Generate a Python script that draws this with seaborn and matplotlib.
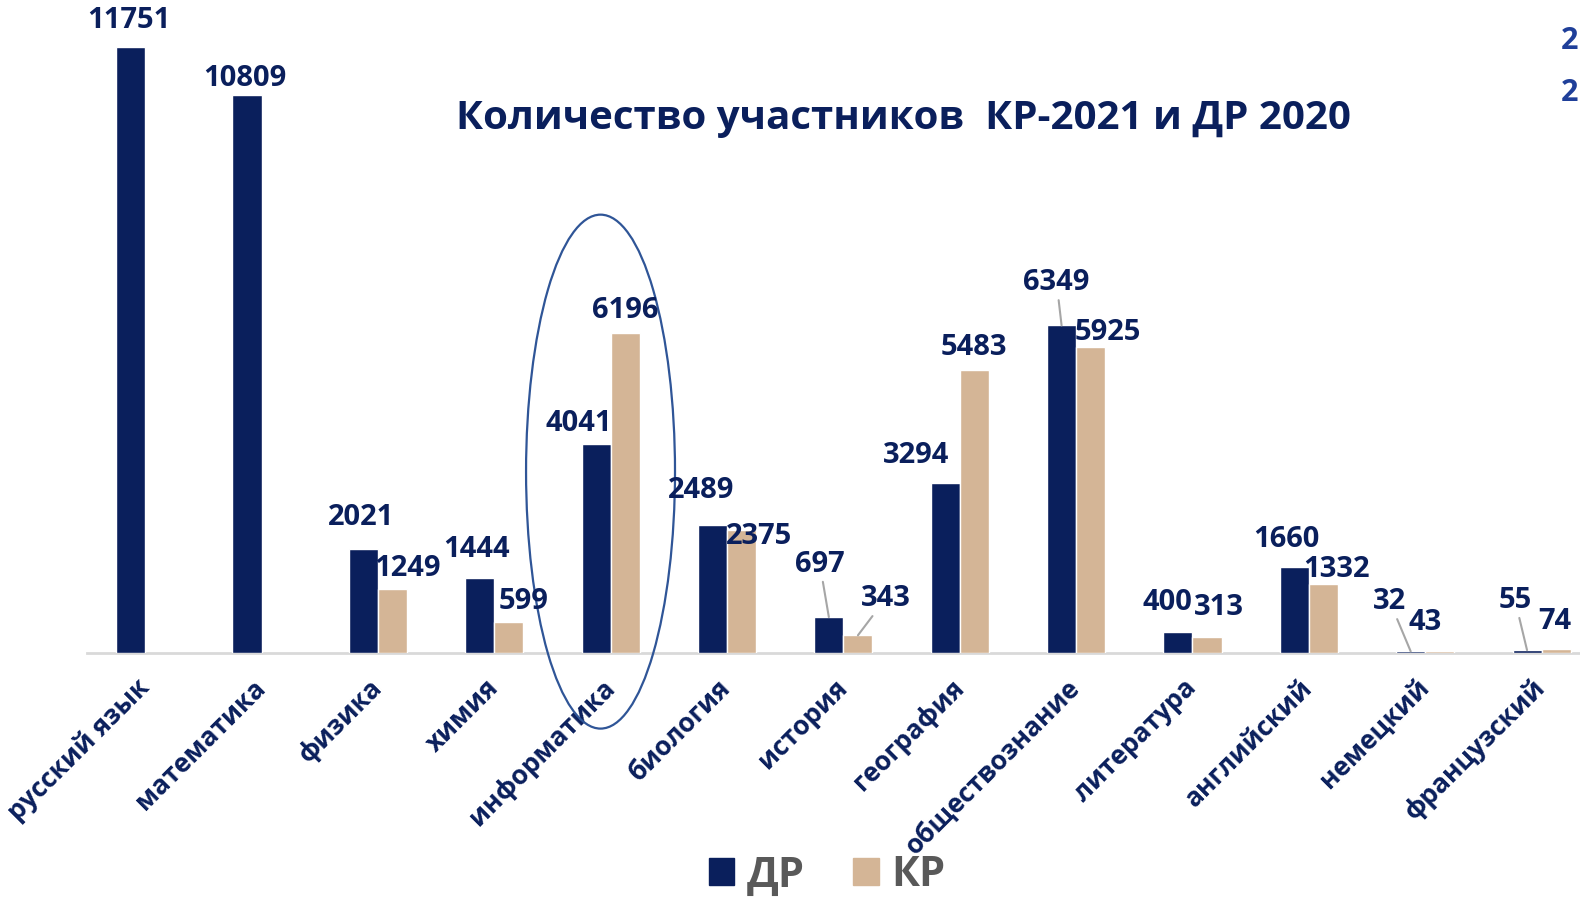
import pandas as pd
import matplotlib.pyplot as plt
import seaborn as sns
from matplotlib.patches import Ellipse, Patch

subjects = ['русский язык', 'математика', 'физика', 'химия', 'информатика', 'биология',
            'история', 'география', 'обществознание', 'литература', 'английский',
            'немецкий', 'французский']
dr = [11751, 10809, 2021, 1444, 4041, 2489, 697, 3294, 6349, 400, 1660, 32, 55]
kr = [None, None, 1249, 599, 6196, 2375, 343, 5483, 5925, 313, 1332, 43, 74]
series = ['ДР', 'КР']
title = 'Количество участников  КР-2021 и ДР 2020'

# label offsets (pixels) from bar top, and which labels have a leader line
dr_off = [(-2, 26), (-2, 17), (-2, 31), (-3, 29), (-17, 21), (-11, 34), (-9, 53),
          (-29, 28), (-5, 43), (-11, 30), (-8, 28), (-21, 50), (-12, 50)]
kr_off = [None, None, (15, 20), (15, 21), (0, 23), (17, -6), (28, 37),
          (0, 23), (17, 15), (12, 29), (13, 15), (-15, 28), (-1, 28)]
dr_lead = [6, 8, 11, 12]
kr_lead = [6]

navy = '#0A1F5C'
tan = '#D4B596'
font = ['Open Sans', 'DejaVu Sans']

rows = []
for s, a, b in zip(subjects, dr, kr):
    rows.append((s, 'ДР', a))
    rows.append((s, 'КР', b))
df = pd.DataFrame(rows, columns=['subject', 'type', 'count']).dropna()

sns.set_style('white')
plt.rcParams['font.family'] = font

fig = plt.figure(figsize=(15.8, 9), dpi=100)
ax = fig.add_axes([87 / 1580, 247 / 900, 1 - 87 / 1580, 653 / 900])
sns.barplot(data=df, x='subject', y='count', hue='type', order=subjects,
            hue_order=series, palette=[navy, tan], width=0.5, errorbar=None,
            saturation=1, legend=False, ax=ax)
ax.set_xlim(-0.5, 12.33)
ax.set_ylim(0, 12655)
ax.set_xlabel('')
ax.set_ylabel('')
ax.set_yticks([])
for sp in ['top', 'left', 'right']:
    ax.spines[sp].set_visible(False)
ax.spines['bottom'].set_color('#D9D9D9')
ax.spines['bottom'].set_linewidth(2)
ax.spines['bottom'].set_zorder(0.5)
ax.tick_params(axis='x', length=0, pad=22)
for lab in ax.get_xticklabels():
    lab.set_rotation(45)
    lab.set_ha('right')
    lab.set_va('center')
    lab.set_rotation_mode('anchor')
    lab.set_fontsize(19)
    lab.set_fontweight('bold')
    lab.set_color(navy)

offsets = {'ДР': (dr_off, dr_lead), 'КР': (kr_off, kr_lead)}
for cont, name in zip(ax.containers, series):
    offs, leads = offsets[name]
    for bar in cont:
        bar.set_zorder(2)
        xc = bar.get_x() + bar.get_width() / 2
        i = int(round(xc))
        h = bar.get_height()
        dx, dy = offs[i]
        arrow = None
        if i in leads:
            arrow = dict(arrowstyle='-', color='#A6A6A6', lw=1.5, shrinkA=0, shrinkB=0)
        ax.annotate(f'{int(h)}', xy=(xc, h), xytext=(dx, dy), textcoords='offset pixels',
                    ha='center', va='center', fontsize=21, fontweight='bold',
                    color=navy, arrowprops=arrow, annotation_clip=False, zorder=3)

ell = Ellipse((3.913, 3515), 1.28, 9960, fill=False, edgecolor='#2F5597',
              lw=1.6, clip_on=False)
ax.add_patch(ell)

fig.text(903 / 1580, 1 - 118 / 900, title, ha='center', va='center',
         fontsize=29, fontweight='bold', color=navy)

for y in [41, 93]:
    fig.text(0.999, 1 - y / 900, '2', ha='right', va='center',
             fontsize=22, fontweight='bold', color='#1F3F99')

handles = [Patch(color=navy, label='ДР'), Patch(color=tan, label='КР')]
leg = fig.legend(handles=handles, loc='center', bbox_to_anchor=(827 / 1580, 24 / 900),
                 ncol=2, frameon=False, fontsize=30, handlelength=0.62, handleheight=0.62,
                 columnspacing=1.15, handletextpad=0.3)
for t in leg.get_texts():
    t.set_color('#595959')
    t.set_fontweight('bold')

fig.savefig('out.png', dpi=100)
